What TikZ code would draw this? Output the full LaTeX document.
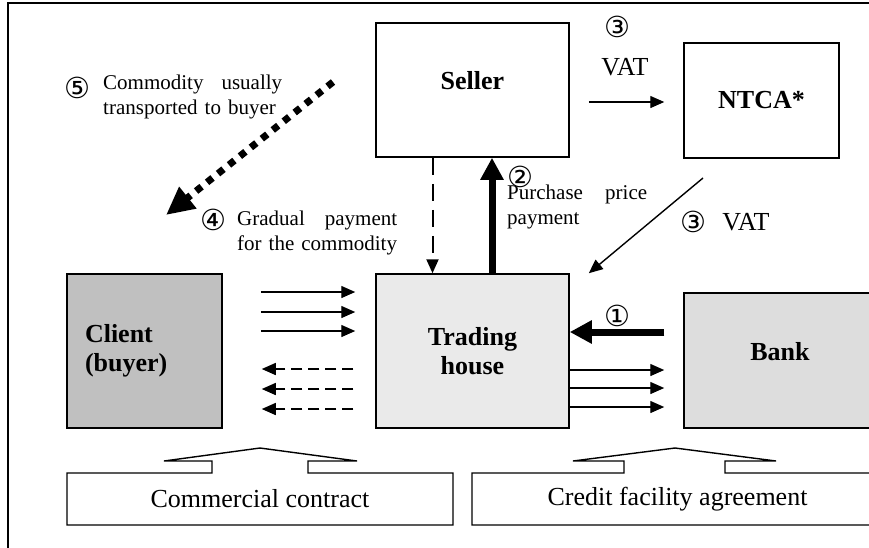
\documentclass[tikz,border=0pt]{standalone}
\usepackage{fontspec}
\setmainfont{Liberation Serif}
\newfontfamily\circfont{DejaVu Sans}
\usetikzlibrary{arrows.meta, positioning}
\definecolor{ClientGray}{RGB}{192,192,192}
\definecolor{TradeGray}{RGB}{234,234,234}
\definecolor{BankGray}{RGB}{221,221,221}

\newcommand{\stepno}[1]{{\circfont\fontsize{29}{29}\selectfont #1}}

\begin{document}
\begin{tikzpicture}[x=1pt, y=-1pt,
          box/.style={rectangle, draw, line width=1.5pt, inner sep=0pt, font=\fontsize{26}{29}\selectfont\bfseries, align=center},
          arrow/.style={-{Triangle[length=14pt,width=12pt]}, line width=1.4pt},
          bigarrow/.style={-{Triangle[length=22pt,width=22pt]}, line width=7pt},
          dasharrow/.style={arrow, dash pattern=on 11pt off 6pt},
          label/.style={font=\fontsize{21}{25}\selectfont, inner sep=0pt, align=left},
          vat/.style={font=\fontsize{26}{29}\selectfont, inner sep=0pt}
        ]
          \useasboundingbox (0,0) rectangle (869,547);
          \clip (0,0) rectangle (869,547);
          \draw[line width=1.5pt] (8,600) -- (8,3) -- (900,3);

          \node (seller) [box, minimum width=193pt, minimum height=134pt, text depth=20pt] at (472.5,90) {Seller};
          \node (ntca) [box, minimum width=155pt, minimum height=115pt] at (761.5,100.5) {NTCA*};
          \node (trade) [box, fill=TradeGray, minimum width=193pt, minimum height=154pt] at (472.5,351) {Trading\\house};
          \node (client) [box, fill=ClientGray, minimum width=155pt, minimum height=154pt, text width=119pt, align=left] at (144.5,351) {Client\\(buyer)};
          \node (bank) [box, fill=BankGray, minimum width=192pt, minimum height=135pt, text depth=18pt] at (780,360.5) {Bank};

          % contracts
          \draw[line width=1.4pt] (67,525) -- (67,473) -- (212,473) -- (212,461) -- (164,461) -- (260,448) -- (357,461) -- (308,461) -- (308,473) -- (453,473) -- (453,525) -- cycle;
          \draw[line width=1.4pt] (472,525) -- (472,473) -- (624,473) -- (624,461) -- (573,461) -- (675,448) -- (776,461) -- (725,461) -- (725,473) -- (890,473) -- (890,525) -- cycle;
          \node (contract) [vat] at (260,499) {Commercial contract};
          \node (credit) [vat] at (677.5,499) {Credit facility agreement};

          % client <-> trading house
          \foreach \y in {292,312,331}
            \draw[arrow, shorten <=38pt, shorten >=20pt] (client.east |- 0,\y) -- (trade.west |- 0,\y);
          \foreach \y in {369,389,409}
            \draw[dasharrow, shorten <=22pt, shorten >=39pt] (trade.west |- 0,\y) -- (client.east |- 0,\y);

          % trading house <-> bank
          \foreach \y in {370,388,407}
            \draw[arrow, shorten >=19pt] (trade.east |- 0,\y) -- (bank.west |- 0,\y);
          \draw[bigarrow, shorten <=19pt] (bank.west |- 0,332) -- (trade.east |- 0,332);
          \node (one) at (617,316) {\stepno{①}};

          % seller, NTCA
          \draw[arrow, shorten <=19pt, shorten >=19pt] (seller.east |- 0,102) -- (ntca.west |- 0,102);
          \node (threetop) at (617,27) {\stepno{③}};
          \node (vattop) [vat] at (625,67) {VAT};
          \coordinate (vatout) at (703,178);
          \draw[arrow] (vatout) -- ([xshift=19pt]trade.north east);
          \node (threelow) at (693,222) {\stepno{③}};
          \node (vatlow) [vat] at (746,222) {VAT};

          % seller <-> trading house
          \draw[arrow, dash pattern=on 17pt off 9pt, line width=2pt] ([xshift=-40pt]seller.south) -- ([xshift=-40pt]trade.north);
          \draw[bigarrow] ([xshift=19.5pt]trade.north) -- ([xshift=19.5pt]seller.south);
          \node (two) at (520,177) {\stepno{②}};
          \node (purchase) [label, text width=140pt, anchor=west] at (507,207) {Purchase\hfill price\\payment};

          % commodity to buyer
          \coordinate (goodsfrom) at (333,82);
          \coordinate (goodsto) at (166,215);
          \draw[-{Triangle[length=28pt,width=26pt]}, line width=7pt, dash pattern=on 7pt off 7pt] (goodsfrom) -- (goodsto);
          \node (five) at (77,88) {\stepno{⑤}};
          \node (goods) [label, text width=179pt, anchor=west] at (103,97) {Commodity\hfill usually\\transported to buyer};
          \node (four) at (213,220) {\stepno{④}};
          \node (gradual) [label, text width=160pt, anchor=west] at (237,233) {Gradual\hfill payment\\for the commodity};
        \end{tikzpicture}
\end{document}
